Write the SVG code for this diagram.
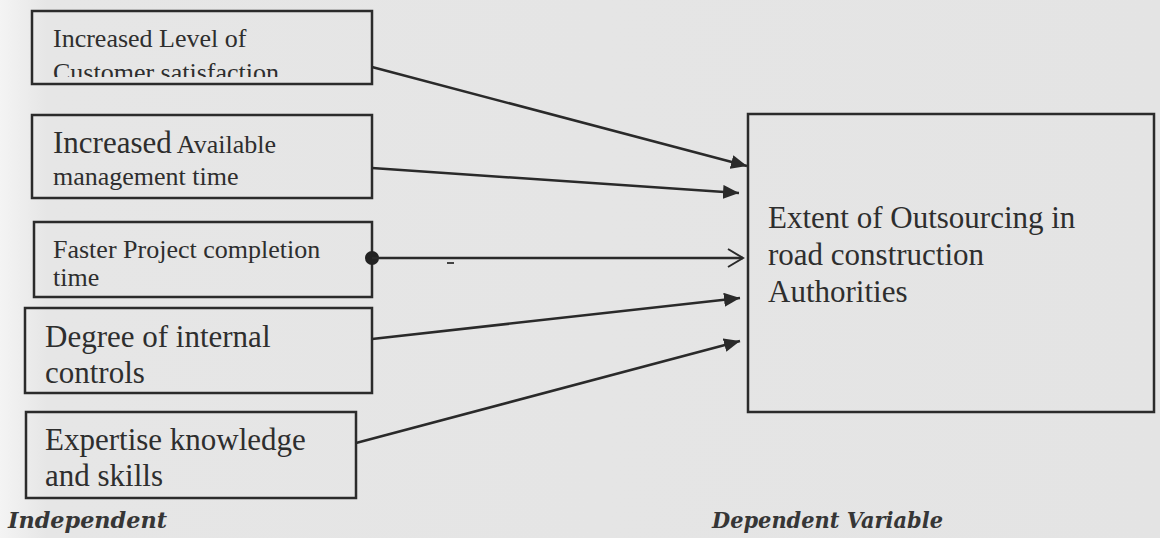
<svg xmlns="http://www.w3.org/2000/svg" width="1160" height="538" viewBox="0 0 1160 538">
<defs>
<linearGradient id="bg" x1="0" y1="0" x2="1" y2="0">
<stop offset="0" stop-color="#f4f4f4"/>
<stop offset="0.04" stop-color="#e6e6e6"/>
<stop offset="1" stop-color="#e4e4e4"/>
</linearGradient>
<marker id="arr" markerUnits="userSpaceOnUse" markerWidth="18" markerHeight="14" refX="16" refY="7" orient="auto">
<path d="M0,0 L16,7 L0,14 Z" fill="#2a2a2a"/>
</marker>
<marker id="open" markerUnits="userSpaceOnUse" markerWidth="18" markerHeight="20" refX="16" refY="10" orient="auto">
<path d="M1,1 L16,10 L1,19" fill="none" stroke="#2a2a2a" stroke-width="2"/>
</marker>
<clipPath id="c1"><rect x="34" y="13" width="336" height="64"/></clipPath>
</defs>
<style>
.box{fill:none;stroke:#2b2b2b;stroke-width:2.5}
.t{font-family:"Liberation Serif","Times New Roman",serif;fill:#2e2e2e;font-size:26px}
.b{font-size:31px}
.lbl{font-family:"DejaVu Serif",serif;font-weight:bold;font-style:italic;fill:#363636;font-size:23px}
.c{stroke:#2a2a2a;stroke-width:2.5;fill:none}
</style>
<rect width="1160" height="538" fill="url(#bg)"/>

<g id="n1">
<rect class="box" x="32" y="11" width="340" height="73"/>
<g clip-path="url(#c1)">
<text class="t" x="53" y="47">Increased Level of</text>
<text class="t" x="53" y="81">Customer satisfaction</text>
</g>
</g>

<g id="n2">
<rect class="box" x="32" y="115" width="340" height="83"/>
<text class="t" x="53" y="153"><tspan class="b">Increased</tspan> Available</text>
<text class="t" x="53" y="185">management time</text>
</g>

<g id="n3">
<rect class="box" x="34" y="222" width="338" height="75"/>
<text class="t" x="53" y="258">Faster Project completion</text>
<text class="t" x="53" y="286">time</text>
</g>

<g id="n4">
<rect class="box" x="25" y="308" width="347" height="85"/>
<text class="t b" x="45" y="347">Degree of internal</text>
<text class="t b" x="45" y="383">controls</text>
</g>

<g id="n5">
<rect class="box" x="26" y="412" width="330" height="86"/>
<text class="t b" x="45" y="450">Expertise knowledge</text>
<text class="t b" x="45" y="486">and skills</text>
</g>

<g id="target">
<rect class="box" x="748" y="114" width="406" height="298" stroke-width="2"/>
<text class="t b" x="768" y="228">Extent of Outsourcing in</text>
<text class="t b" x="768" y="265">road construction</text>
<text class="t b" x="768" y="302">Authorities</text>
</g>

<g id="connectors">
<line class="c" x1="372" y1="67" x2="747" y2="166" marker-end="url(#arr)"/>
<line class="c" x1="372" y1="168" x2="739" y2="193" marker-end="url(#arr)"/>
<circle cx="372" cy="258" r="7" fill="#222"/>
<line class="c" x1="372" y1="258" x2="743" y2="258" marker-end="url(#open)"/>
<line x1="447" y1="263" x2="454" y2="263" stroke="#444" stroke-width="2"/>
<line class="c" x1="372" y1="339" x2="740" y2="298" marker-end="url(#arr)"/>
<line class="c" x1="356" y1="443" x2="740" y2="341" marker-end="url(#arr)"/>
</g>

<g id="labels">
<text class="lbl" x="8" y="528" textLength="159" lengthAdjust="spacingAndGlyphs">Independent</text>
<text class="lbl" x="712" y="528" textLength="231" lengthAdjust="spacingAndGlyphs">Dependent Variable</text>
</g>
</svg>
